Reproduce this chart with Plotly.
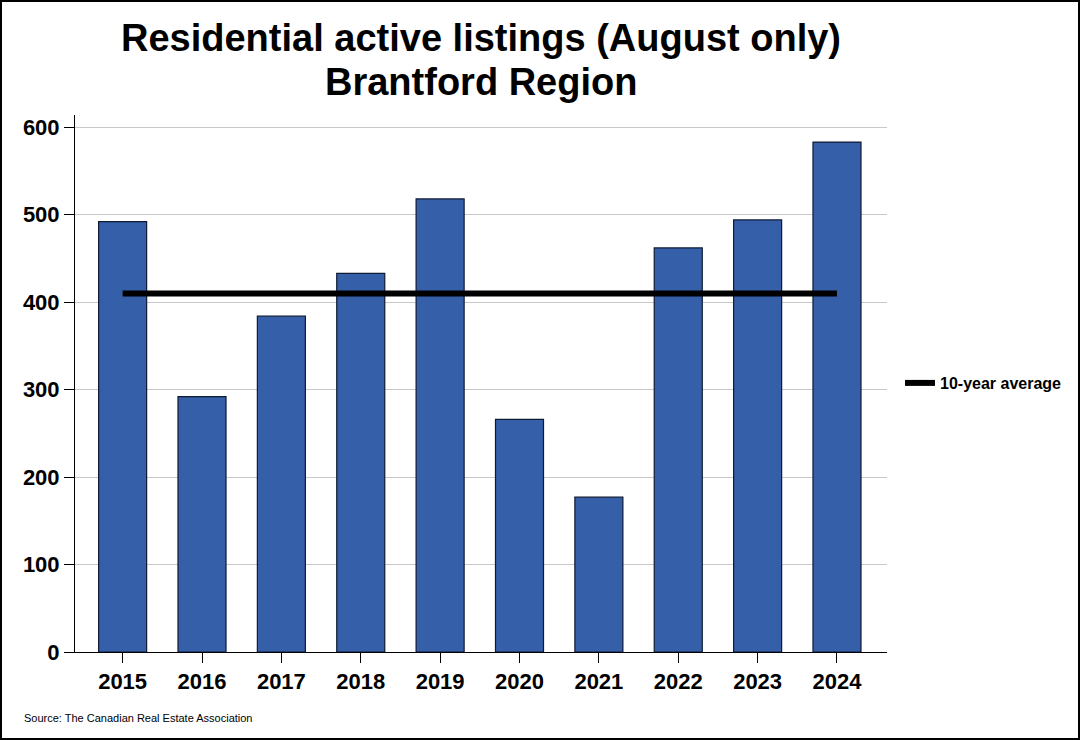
import plotly.graph_objects as go

years = ["2015", "2016", "2017", "2018", "2019", "2020", "2021", "2022", "2023", "2024"]
listings = [492, 292, 384, 433, 518, 266, 177, 462, 494, 583]
avg_value = 410
avg_line = [avg_value] * len(years)
y_ticks = [0, 100, 200, 300, 400, 500, 600]
title_line1 = "Residential active listings (August only)"
title_line2 = "Brantford Region"

W, H = 1080, 740
ml, mr, mt, mb = 75, 193, 115, 88
pw, ph = W - ml - mr, H - mt - mb
FONT = "Liberation Sans, Arial, sans-serif"

fig = go.Figure()
fig.add_trace(go.Bar(
    x=years, y=listings, marker=dict(color="#355FA9", line=dict(color="#0F1A33", width=1.2)),
    width=0.605, showlegend=False, hoverinfo="x+y",
))
fig.add_trace(go.Scatter(
    x=years, y=avg_line, mode="lines", name="10-year average",
    line=dict(color="black", width=6),
))

fig.update_layout(
    width=W, height=H,
    margin=dict(l=ml, r=mr, t=mt, b=mb),
    paper_bgcolor="white", plot_bgcolor="white",
    font=dict(family=FONT, color="black"),
    title=dict(
        text="<b>" + title_line1 + "</b>",
        x=0.5, xref="paper", xanchor="center", y=1 - 38 / H, yref="container", yanchor="middle",
        font=dict(size=38, color="black", family=FONT),
    ),
    legend=dict(x=(900 - ml) / pw, y=(652 - 383) / ph, xanchor="left", yanchor="middle",
                font=dict(size=16, color="black", family=FONT, weight="bold"),
                bgcolor="rgba(0,0,0,0)", itemwidth=30),
    xaxis=dict(
        type="category", range=[-0.6, 9.63], showgrid=False,
        showline=True, linecolor="black", linewidth=1,
        ticks="outside", ticklen=10, tickcolor="black",
        tickfont=dict(size=22, color="black", family=FONT, weight="bold"),
    ),
    yaxis=dict(
        range=[0, 614], tickvals=y_ticks, showgrid=True, gridcolor="#C8C8C8", gridwidth=1,
        showline=True, linecolor="black", linewidth=1, zeroline=False,
        ticks="outside", ticklen=10, tickcolor="black",
        tickfont=dict(size=22, color="black", family=FONT, weight="bold"),
    ),
)

fig.add_annotation(
    text="<b>" + title_line2 + "</b>", xref="paper", yref="paper",
    x=0.5, y=1 + (mt - 82) / ph, xanchor="center", yanchor="middle",
    showarrow=False, font=dict(size=38, color="black", family=FONT),
)

fig.add_annotation(
    text="Source: The Canadian Real Estate Association", xref="paper", yref="paper",
    x=(22 - ml) / pw, y=-(718 - 652) / ph, xanchor="left", yanchor="middle",
    showarrow=False, font=dict(size=11, color="black"),
)

fig.add_shape(
    type="rect", xref="paper", yref="paper",
    x0=-(ml - 1) / pw, x1=1 + (mr - 1) / pw, y0=-(mb - 1) / ph, y1=1 + (mt - 1) / ph,
    line=dict(color="black", width=2), fillcolor="rgba(0,0,0,0)", layer="above",
)

fig.write_html("out.html", config={"displayModeBar": False},
               post_script="document.body.style.margin='0';document.body.style.padding='0';")
